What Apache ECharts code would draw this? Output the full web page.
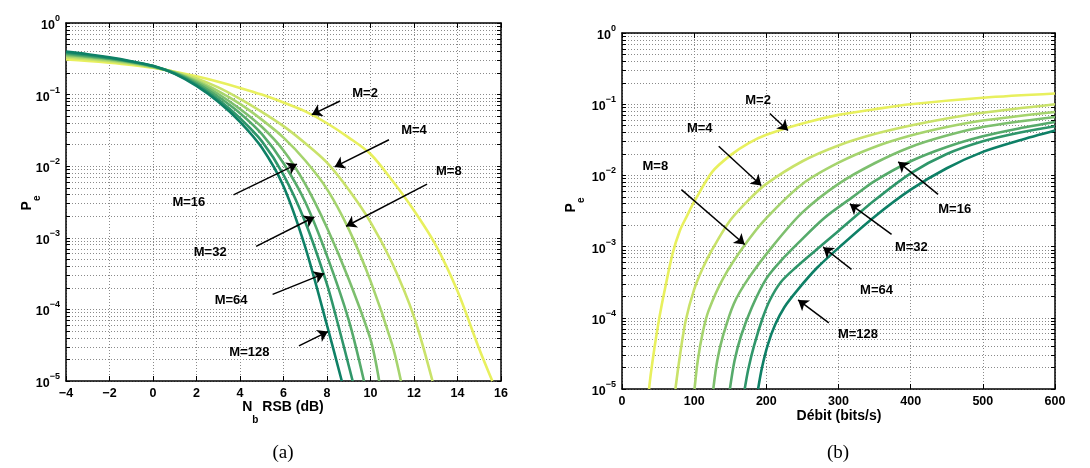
<!DOCTYPE html>
<html>
<head>
<meta charset="utf-8">
<script src="https://cdn.jsdelivr.net/npm/echarts@6/dist/echarts.min.js"></script>
<style>
html, body { margin: 0; padding: 0; background: #fff; }
#chart { width: 1090px; height: 468px; }
</style>
</head>
<body>
<div id="chart"></div>
<script>
// (a) Pe en fonction de Nb RSB (dB)
var rsbM2 = [[-4,0.309],[-3,0.295],[-2,0.279],[-1,0.26],[0,0.237],[1,0.209],[2,0.18],[3,0.151],[4,0.124],[5,0.1],[6,0.0776],[7,0.0582],[8,0.0398],[9,0.0251],[10,0.0148],[11,0.0063],[12,0.0024],[13,7.9e-4],[14,1.8e-4],[15,2.8e-5],[15.6,1e-5]];
var rsbM4 = [[-4,0.331],[-3,0.313],[-2,0.292],[-1,0.269],[0,0.24],[1,0.207],[2,0.168],[3,0.126],[4,0.0871],[5,0.0575],[6,0.0363],[7,0.0209],[8,0.0112],[9,0.00468],[10,0.00166],[11,4.4e-4],[12,7.9e-5],[12.85,1e-5]];
var rsbM8 = [[-4,0.347],[-3,0.324],[-2,0.302],[-1,0.275],[0,0.243],[1,0.204],[2,0.158],[3,0.112],[4,0.0741],[5,0.0447],[6,0.0251],[7,0.012],[8,0.00479],[9,0.00132],[10,2.5e-4],[11,3.2e-5],[11.4,1e-5]];
var rsbM16 = [[-4,0.359],[-3,0.335],[-2,0.313],[-1,0.282],[0,0.245],[1,0.202],[2,0.151],[3,0.102],[4,0.0631],[5,0.0355],[6,0.0166],[7,0.00562],[8,0.00138],[9,2.63e-4],[10,3.8e-5],[10.4,1e-5]];
var rsbM32 = [[-4,0.372],[-3,0.343],[-2,0.316],[-1,0.285],[0,0.248],[1,0.2],[2,0.145],[3,0.0933],[4,0.055],[5,0.0282],[6,0.011],[7,0.00316],[8,5.6e-4],[9,7.1e-5],[9.7,1e-5]];
var rsbM64 = [[-4,0.385],[-3,0.355],[-2,0.324],[-1,0.288],[0,0.251],[1,0.197],[2,0.138],[3,0.0851],[4,0.0468],[5,0.0224],[6,0.00759],[7,0.00166],[8,2.24e-4],[8.5,6.3e-5],[9.18,1e-5]];
var rsbM128 = [[-4,0.398],[-3,0.367],[-2,0.331],[-1,0.292],[0,0.252],[1,0.195],[2,0.132],[3,0.0794],[4,0.0417],[5,0.0182],[6,0.00525],[7,7.4e-4],[8,6.0e-5],[8.68,1e-5]];

// (b) Pe en fonction du debit (bits/s)
var debitM2 = [[37.5,1e-5],[40,1.66e-5],[45,3.8e-5],[50,7.9e-5],[55,1.51e-4],[60,2.69e-4],[70,7.9e-4],[80,1.66e-3],[90,2.69e-3],[100,4.27e-3],[125,0.0112],[150,0.0191],[175,0.0282],[200,0.0372],[250,0.0537],[300,0.0708],[350,0.0851],[400,0.1],[500,0.123],[600,0.141]];
var debitM4 = [[74,1e-5],[80,2.82e-5],[88,8.9e-5],[100,2.51e-4],[112,5.0e-4],[125,9.1e-4],[150,2.34e-3],[175,4.47e-3],[200,7.59e-3],[250,0.0158],[300,0.0263],[350,0.038],[400,0.0501],[450,0.0631],[500,0.0759],[600,0.1]];
var debitM8 = [[100.5,1e-5],[105,2.51e-5],[112,6.3e-5],[120,1.26e-4],[140,3.55e-4],[170,1.05e-3],[200,2.51e-3],[250,7.59e-3],[300,0.0151],[350,0.0251],[400,0.0363],[450,0.0479],[500,0.0589],[600,0.0776]];
var debitM16 = [[126.5,1e-5],[132,2.51e-5],[140,5.6e-5],[155,1.58e-4],[175,3.55e-4],[210,1.05e-3],[250,3.02e-3],[300,7.59e-3],[350,0.0148],[400,0.0251],[450,0.0363],[500,0.0479],[600,0.066]];
var debitM32 = [[149.5,1e-5],[156,2.51e-5],[165,5.6e-5],[180,1.41e-4],[200,3.55e-4],[220,6.3e-4],[244,1.12e-3],[280,2.51e-3],[320,5.0e-3],[350,8.3e-3],[400,0.0158],[450,0.0251],[500,0.0355],[550,0.0457],[600,0.0562]];
var debitM64 = [[170,1e-5],[175,1.9e-5],[183,4.07e-5],[195,1e-4],[205,1.78e-4],[220,3.16e-4],[240,5.0e-4],[277,1.05e-3],[300,1.66e-3],[350,4.47e-3],[400,0.0107],[450,0.02],[500,0.0302],[550,0.0398],[600,0.049]];
var debitM128 = [[188.6,1e-5],[194,2.0e-5],[202,4.17e-5],[212,7.9e-5],[225,1.41e-4],[244,2.51e-4],[270,5.0e-4],[302,1e-3],[350,2.63e-3],[400,6.3e-3],[450,0.0126],[500,0.0214],[550,0.0309],[600,0.0427]];

var mLabels = ['M=2', 'M=4', 'M=8', 'M=16', 'M=32', 'M=64', 'M=128'];
var decades = [1e-5, 1e-4, 1e-3, 1e-2, 1e-1, 1];

// annotations : [texte x, texte y, queue x, queue y, pointe x, pointe y]
var notesA = [
  [9.75, 0.105, 8.6, 0.0813, 7.3, 0.0525],
  [12.0, 0.0316, 10.85, 0.0234, 8.35, 0.00977],
  [13.6, 0.00832, 12.6, 0.00562, 8.88, 0.00145],
  [1.65, 0.00316, 3.7, 0.00398, 6.62, 0.0107],
  [2.63, 6.2e-4, 4.74, 7.6e-4, 7.42, 1.95e-3],
  [3.59, 1.35e-4, 5.5, 1.62e-4, 7.87, 3.16e-4],
  [4.43, 2.5e-5, 6.71, 3.1e-5, 8.04, 4.9e-5]
];
var notesB = [
  [188.6, 0.113, 204.8, 0.0741, 230, 0.0427],
  [107.7, 0.0457, 134, 0.0257, 193, 7.2e-3],
  [46.2, 0.0132, 82.3, 6.3e-3, 170, 1.07e-3],
  [461, 3.3e-3, 438, 5.4e-3, 382.8, 0.0155],
  [401, 9.8e-4, 373.5, 1.48e-3, 315.8, 3.98e-3],
  [352.7, 2.4e-4, 318, 4.8e-4, 278.8, 9.8e-4],
  [327, 5.9e-5, 286.6, 8.5e-5, 244, 1.78e-4]
];

var FONT = '"Liberation Sans", Arial, sans-serif';
var colors = ['#e8f05e', '#c9e26a', '#a6d46e', '#7dbf6e', '#55aa6b', '#2f966a', '#0e8066'];

var minors = [];
for (var k = -5; k < 0; k++) {
  for (var m = 2; m <= 9; m++) {
    minors.push(m * Math.pow(10, k));
  }
}
var allTicks = decades.concat(minors).sort(function(a, b) { return a - b; });

function minus(v) {
  return v < 0 ? '\u2212' + (-v) : String(v);
}

function powLabel(v) {
  var e = Math.round(Math.log(v) / Math.LN10);
  return '{b|10}{e|' + minus(e) + '}';
}

var gridLine = { show: true, lineStyle: { color: '#8a8a8a', width: 1, type: [1, 2] } };
var boxLine = { show: true, onZero: false, lineStyle: { color: '#000', width: 1.5 } };
var tick = { show: true, inside: true, length: 5, lineStyle: { color: '#000', width: 1 } };

function xAxes(grid, min, max, step, fmt) {
  return [{
    type: 'value', gridIndex: grid, min: min, max: max, interval: step, position: 'bottom',
    axisLine: boxLine, axisTick: tick, splitLine: gridLine,
    axisLabel: { formatter: fmt, margin: 6, color: '#000', fontFamily: FONT, fontWeight: 'bold', fontSize: 12.5 }
  }, {
    type: 'value', gridIndex: grid, min: min, max: max, interval: step, position: 'top',
    axisLine: boxLine, axisTick: tick, splitLine: { show: false }, axisLabel: { show: false }
  }];
}

function yAxes(grid) {
  return [{
    type: 'log', logBase: 10, gridIndex: grid, min: 1e-5, max: 1, position: 'left',
    axisLine: boxLine,
    axisTick: { show: true, inside: true, length: 4, lineStyle: { color: '#000' }, customValues: allTicks },
    splitLine: gridLine,
    axisLabel: {
      customValues: decades, formatter: powLabel, margin: 6,
      rich: {
        b: { fontFamily: FONT, fontWeight: 'bold', fontSize: 12.5, color: '#000', lineHeight: 18, verticalAlign: 'bottom' },
        e: { fontFamily: FONT, fontWeight: 'bold', fontSize: 9, color: '#000', verticalAlign: 'top' }
      }
    }
  }, {
    type: 'log', logBase: 10, gridIndex: grid, min: 1e-5, max: 1, position: 'right',
    axisLine: boxLine,
    axisTick: { show: true, inside: true, length: 4, lineStyle: { color: '#000' }, customValues: allTicks },
    splitLine: { show: false }, axisLabel: { show: false }
  }];
}

function curves(list, xi, yi) {
  return list.map(function(d, i) {
    return {
      type: 'line', name: mLabels[i], data: d, xAxisIndex: xi, yAxisIndex: yi,
      showSymbol: false, smooth: 0.3, z: 3,
      lineStyle: { color: colors[i], width: 2.6 }, itemStyle: { color: colors[i] }
    };
  });
}

function notes(list, xi, yi) {
  return {
    type: 'line', data: [], xAxisIndex: xi, yAxisIndex: yi, z: 5, silent: true,
    markLine: {
      silent: true, animation: false, symbol: ['none', 'arrow'], symbolSize: 10,
      lineStyle: { color: '#000', width: 1.5, type: 'solid' }, label: { show: false },
      data: list.map(function(n) {
        return [{ coord: [n[2], n[3]] }, { coord: [n[4], n[5]] }];
      })
    },
    markPoint: {
      silent: true, animation: false, symbol: 'circle', symbolSize: 0,
      itemStyle: { color: 'transparent' },
      label: { show: true, position: 'inside', color: '#000', fontFamily: FONT, fontWeight: 'bold', fontSize: 13, formatter: function(p) { return p.name; } },
      data: list.map(function(n, i) {
        return { name: mLabels[i], coord: [n[0], n[1]] };
      })
    }
  };
}

var subRich = function(big, small, lh) {
  return {
    n: { fontFamily: FONT, fontWeight: 'bold', fontSize: big, verticalAlign: 'top' },
    s: { fontFamily: FONT, fontWeight: 'bold', fontSize: small, lineHeight: lh, verticalAlign: 'bottom' }
  };
};

var chart = echarts.init(document.getElementById('chart'), null, { renderer: 'canvas' });
chart.setOption({
  animation: false,
  backgroundColor: '#fff',
  grid: [
    { left: 66, top: 23, width: 435, height: 358 },
    { left: 622, top: 33, width: 433, height: 356 }
  ],
  xAxis: xAxes(0, -4, 16, 2, minus).concat(xAxes(1, 0, 600, 100, minus)),
  yAxis: yAxes(0).concat(yAxes(1)),
  series: curves([rsbM2, rsbM4, rsbM8, rsbM16, rsbM32, rsbM64, rsbM128], 0, 0)
    .concat(curves([debitM2, debitM4, debitM8, debitM16, debitM32, debitM64, debitM128], 2, 2))
    .concat([notes(notesA, 0, 0), notes(notesB, 2, 2)]),
  graphic: [
    { type: 'text', x: 283, y: 400, style: { text: '{n|N}{s|b}{n| RSB (dB)}', align: 'center', verticalAlign: 'top', fill: '#000',
      rich: subRich(14, 10, 25) } },
    { type: 'text', x: 839, y: 416, style: { text: 'Débit (bits/s)', align: 'center', verticalAlign: 'middle', fill: '#000',
      font: 'bold 14px ' + FONT } },
    { type: 'text', x: 20, y: 203, rotation: Math.PI / 2, style: { text: '{n|P}{s|e}', align: 'center', verticalAlign: 'top', fill: '#000',
      rich: subRich(14, 10, 22) } },
    { type: 'text', x: 564, y: 205, rotation: Math.PI / 2, style: { text: '{n|P}{s|e}', align: 'center', verticalAlign: 'top', fill: '#000',
      rich: subRich(14, 10, 22) } },
    { type: 'text', x: 283, y: 453, style: { text: '(a)', align: 'center', verticalAlign: 'middle', fill: '#000',
      font: '19px "Liberation Serif", "DejaVu Serif", serif' } },
    { type: 'text', x: 838, y: 453, style: { text: '(b)', align: 'center', verticalAlign: 'middle', fill: '#000',
      font: '19px "Liberation Serif", "DejaVu Serif", serif' } }
  ]
});
</script>
</body>
</html>
